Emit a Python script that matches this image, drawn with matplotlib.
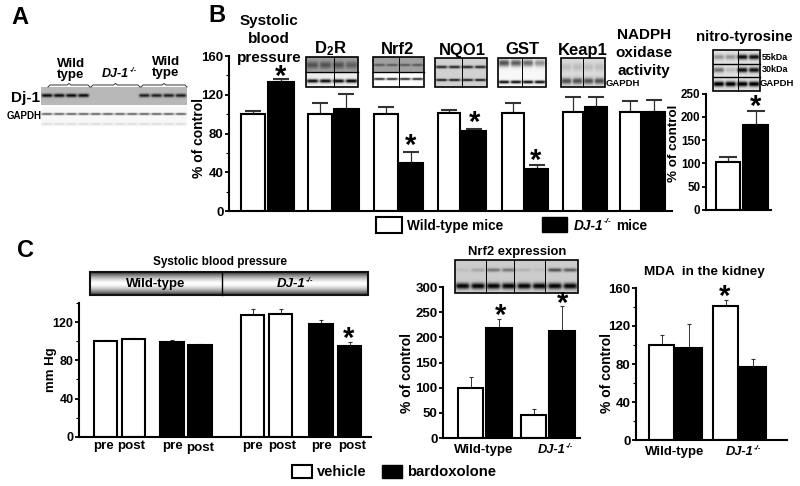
import matplotlib as mpl
import matplotlib.pyplot as plt
import numpy as np
from matplotlib.patches import Rectangle
from matplotlib.ticker import MultipleLocator

mpl.use('Agg')

plt.rcParams['font.family'] = ['Liberation Sans', 'DejaVu Sans']
plt.rcParams['font.weight'] = 'bold'
plt.rcParams['mathtext.default'] = 'regular'

W, H = 800, 486

# panel B
b_values = [100, 133, 100, 105, 100, 50, 101, 83, 101, 43, 102, 107, 102, 102]
b_tops = [103, 136, 112, 121, 107, 61, 104, 85, 111, 47, 118, 118, 114, 115]
b_edges = [(240, 266), (267, 295), (307, 333), (333, 360), (373, 399), (399, 424), (437, 461),
           (461, 487), (501, 525), (525, 549), (562, 584), (584, 608), (619, 642), (642, 666)]
b_fills = ['w', 'k'] * 7

# nitro-tyrosine
nitro_values = [103, 183]
nitro_tops = [113, 212]
nitro_edges = [(715, 741), (742, 769)]

# panel C, systolic pressure
sbp_values = [100, 102, 99, 96, 127, 128, 118, 95]
sbp_tops = [101.5, 103.5, 101, 97, 134, 134, 122, 99]
sbp_edges = [(93, 118), (121, 146), (159, 185), (187, 213), (240, 265), (268, 293), (308, 334), (337, 362)]
sbp_fills = ['w', 'w', 'k', 'k', 'w', 'w', 'k', 'k']
sbp_labels = [('pre', 104, 446), ('post', 131, 446), ('pre', 173, 446), ('post', 200, 448),
              ('pre', 253, 446), ('post', 282, 446), ('pre', 322, 446), ('post', 352, 446)]

# panel C, Nrf2 expression
nrf_values = [99, 219, 45, 212]
nrf_tops = [121, 237, 58, 263]
nrf_edges = [(457, 484), (485, 513), (520, 547), (548, 576)]

# panel C, MDA
mda_values = [100, 97, 141, 77]
mda_tops = [111, 122, 147, 85]
mda_edges = [(648, 675), (675, 703), (712, 739), (739, 767)]

stars = [(281, 73), (411, 142), (475, 119), (536, 157), (756, 103), (349, 335), (501, 312), (563, 300), (725, 293)]

# blots: box, background rows, bands (y, half height, darkness per lane), lane dividers, row dividers
blots = [
    ((41, 187, 88, 105), [(88, 0.72)], [(96, 1.6, [0.7] * 4 + [0.0] * 4 + [0.62] * 4)], [], False, []),
    ((41, 187, 107, 126), [(107, 0.97)], [(114, 1.0, [0.65] * 12), (124, 1.2, [0.1] * 12)], [], False, []),
    ((306, 358, 57, 87), [(57, 0.62), (72, 0.93)],
     [(65, 3.5, [0.3, 0.3, 0.3, 0.25]), (81, 1.8, [0.9, 0.9, 0.9, 0.95])], [334], True, [72]),
    ((373, 424, 57, 87), [(57, 0.63), (72, 1.0)],
     [(65, 1.2, [0.3, 0.3, 0.3, 0.3]), (79, 1.1, [0.9, 0.9, 0.9, 0.9])], [399], True, [72]),
    ((435, 487, 58, 87), [(58, 0.82)],
     [(67, 1.4, [0.7, 0.7, 0.7, 0.7]), (80, 1.2, [0.75, 0.75, 0.75, 0.75])], [462], True, []),
    ((498, 546, 58, 87), [(58, 0.97)],
     [(63, 3.5, [0.65, 0.6, 0.55, 0.4]), (82, 1.5, [0.95, 0.95, 0.95, 0.95])], [522], True, []),
    ((561, 605, 58, 87), [(58, 0.86)],
     [(67, 4.0, [0.12, 0.12, 0.12, 0.12]), (81, 3.0, [0.55, 0.55, 0.55, 0.55])], [583], True, []),
    ((713, 760, 50, 91), [(50, 0.88)],
     [(57, 2.5, [0.3, 0.3, 0.85, 0.85]), (70, 2.5, [0.45, 0.15, 0.85, 0.85]), (84, 2.5, [0.95, 0.95, 0.95, 0.95])],
     [738], True, [64, 77]),
    ((455, 578, 260, 293), [(260, 0.8)],
     [(270, 1.8, [0.05, 0.15, 0.35, 0.35, 0.1, 0.05, 0.5, 0.45]), (286, 3.0, [0.8] * 8)],
     [486, 514, 545], True, []),
]

fig = plt.figure(figsize=(W / 100, H / 100), dpi=100)
fig.patch.set_facecolor('white')

ov = fig.add_axes([0, 0, 1, 1], zorder=5)
ov.patch.set_alpha(0)
ov.axis('off')


def make_axes(left, right, y_zero, y_max_px, y_max, major, minor=None, tick_size=9.5):
    ax = fig.add_axes([left / W, 1 - y_zero / H, (right - left) / W, (y_zero - y_max_px) / H], zorder=3)
    ax.patch.set_alpha(0)
    ax.set_xlim(left, right)
    ax.set_ylim(0, y_max)
    ax.spines['top'].set_visible(False)
    ax.spines['right'].set_visible(False)
    ax.spines['left'].set_linewidth(1.5)
    ax.spines['bottom'].set_linewidth(1.5)
    ax.set_xticks([])
    ax.yaxis.set_major_locator(MultipleLocator(major))
    if minor:
        ax.yaxis.set_minor_locator(MultipleLocator(minor))
    ax.tick_params(axis='y', which='major', length=3, width=1.3, pad=1, labelsize=tick_size)
    ax.tick_params(axis='y', which='minor', length=2, width=0.8)
    return ax


def draw_bars(ax, edges, values, tops, fills, lw=1.5, cap=4.5, capw=1.5, elw=0.9):
    for (x0, x1), v, top, c in zip(edges, values, tops, fills):
        mid = (x0 + x1) / 2
        ax.errorbar(mid, v, yerr=[[0], [top - v]], color='#333333', capsize=cap, capthick=capw, elinewidth=elw, zorder=1)
        ax.bar(mid, v, width=x1 - x0 - lw, color=c, edgecolor='k', linewidth=lw, zorder=2)


def draw_blot(box, rows, bands, lane_lines, framed, row_lines):
    x0, x1, y0, y1 = box
    sc = 3
    img = np.ones(((y1 - y0) * sc, (x1 - x0) * sc))
    ys = y0 + (np.arange(img.shape[0]) + 0.5) / sc
    xs = x0 + (np.arange(img.shape[1]) + 0.5) / sc
    for start, gray in rows:
        img[ys >= start, :] = gray
    for yc, half, levels in bands:
        n = len(levels)
        lane_w = (x1 - x0) / n
        for i, lev in enumerate(levels):
            xc = x0 + (i + 0.5) * lane_w
            prof_x = np.exp(-((xs - xc) / (lane_w * 0.45)) ** 6)
            prof_y = np.exp(-((ys - yc) / half) ** 2)
            img -= lev * np.outer(prof_y, prof_x)
    ov.imshow(np.clip(img, 0, 1), cmap='gray', vmin=0, vmax=1, extent=(x0, x1, y1, y0), aspect='auto',
              interpolation='bilinear', zorder=1)
    if framed:
        ov.add_patch(Rectangle((x0, y0), x1 - x0, y1 - y0, fill=False, ec='k', lw=1.2, zorder=2))
        for lx in lane_lines:
            ov.plot([lx, lx], [y0, y1], color='k', lw=0.7, zorder=2)
        for ly in row_lines:
            ov.plot([x0, x1], [ly, ly], color='k', lw=1.0, zorder=2)


def brace(x0, x1, y):
    mid = (x0 + x1) / 2
    ov.plot([x0, x0 + 2, mid - 2, mid, mid + 2, x1 - 2, x1], [y + 2, y, y, y - 1.5, y, y, y + 2],
            color='#333333', lw=0.7, zorder=2)


def put(x, y, s, size=9.5, **kw):
    kw.setdefault('ha', 'center')
    kw.setdefault('va', 'center')
    return ov.text(x, y, s, fontsize=size, fontweight='bold', color='k', zorder=6, **kw)


def put_dj(x, y, size):
    # italic name with a small raised -/-, centred on x as a whole
    base = put(x, y, 'DJ-1', size, style='italic', ha='left')
    sup = put(x, y - size * 0.42, '-/-', size * 0.6, style='italic', ha='left')
    rend = fig.canvas.get_renderer()
    w_b = base.get_window_extent(rend).width
    w_s = sup.get_window_extent(rend).width
    x0 = x - (w_b + w_s) / 2
    base.set_x(x0)
    sup.set_x(x0 + w_b + 0.5)


# panel B
ax_b = make_axes(229, 672, 211, 56, 160, 40, 20)
draw_bars(ax_b, b_edges, b_values, b_tops, b_fills, cap=5.5)

ax_n = make_axes(706, 771, 210, 93.7, 250, 50, tick_size=8.4)
draw_bars(ax_n, nitro_edges, nitro_values, nitro_tops, ['w', 'k'], cap=6.5)

# panel C
ax_c = make_axes(79, 371, 436.7, 303, 140, 40, 20, tick_size=9)
draw_bars(ax_c, sbp_edges, sbp_values, sbp_tops, sbp_fills, cap=1.5, capw=0.8, elw=0.7)

ax_e = make_axes(443, 580, 438, 287, 300, 50, tick_size=9.5)
draw_bars(ax_e, nrf_edges, nrf_values, nrf_tops, ['w', 'k', 'w', 'k'], cap=1.5, capw=0.8, elw=0.7)

ax_m = make_axes(636, 787, 440, 288, 160, 40, 20, tick_size=9.5)
draw_bars(ax_m, mda_edges, mda_values, mda_tops, ['w', 'k', 'w', 'k'], cap=1.5, capw=0.8, elw=0.7)

for b in blots:
    draw_blot(*b)

# banner
grad = np.abs(np.linspace(-1, 1, 40))[:, None] ** 1.6
ov.imshow(1 - 0.8 * grad, cmap='gray', vmin=0, vmax=1, extent=(90, 368, 295, 272), aspect='auto', zorder=1)
ov.add_patch(Rectangle((90, 272), 278, 23, fill=False, ec='#111111', lw=1.5, zorder=2))
ov.plot([222, 222], [272, 295], color='k', lw=1, zorder=2)

for x0, x1 in [(48, 90), (91, 140), (141, 187)]:
    brace(x0, x1, 85)

# legends
ov.add_patch(Rectangle((376, 217), 26, 16, fc='w', ec='k', lw=1.5, zorder=2))
ov.add_patch(Rectangle((542, 217), 25, 15, fc='k', ec='k', lw=1, zorder=2))
ov.add_patch(Rectangle((292, 465), 20, 13, fc='w', ec='k', lw=1.5, zorder=2))
ov.add_patch(Rectangle((382, 465), 20, 13, fc='k', ec='k', lw=1, zorder=2))

ov.set_xlim(0, W)
ov.set_ylim(H, 0)

# text
put(20, 17, 'A', 17)
put(217, 16, 'B', 17)
put(25, 250, 'C', 17)
put(71, 69.5, 'Wild\ntype', 9.6, linespacing=0.9)
put_dj(119, 74, 9)
put(166, 67.5, 'Wild\ntype', 9.6, linespacing=0.9)
put(26, 98, 'Dj-1', 11)
put(24, 116, 'GAPDH', 7)

put(269, 21, 'Systolic', 11)
put(269, 39, 'blood', 11)
put(269, 58, 'pressure', 11)
put(330, 49, 'D$_2$R', 12)
put(398, 50, 'Nrf2', 12)
put(462, 50, 'NQO1', 12)
put(522, 50, 'GST', 12)
put(583, 50, 'Keap1', 12)
put(644, 35, 'NADPH', 11)
put(644, 53, 'oxidase', 11)
put(644, 71, 'activity', 11)
put(744, 37, 'nitro-tyrosine', 10.8)
put(775, 57, '55kDa', 6.5)
put(775, 70, '30kDa', 6.5)
put(777, 84, 'GAPDH', 6.8)
put(623, 84, 'GAPDH', 6.8)
put(407, 226, 'Wild-type mice', 9.8, ha='left')
put_dj(592, 226, 9.8)
put(616, 226, 'mice', 9.8, ha='left')

put(199, 138, '% of control', 10, rotation=90)
put(674, 143, '% of control', 9.6, rotation=90)
put(51, 370, 'mm Hg', 9.5, rotation=90)
put(407, 373, '% of control', 10, rotation=90)
put(607, 373, '% of control', 10, rotation=90)

put(220, 262, 'Systolic blood pressure', 8.5)
put(156, 284, 'Wild-type', 9.5)
put_dj(295, 284, 9.5)
for s, x, y in sbp_labels:
    put(x, y, s, 9.6)
put(517, 252, 'Nrf2 expression', 9.4)
put(484, 450, 'Wild-type', 9.5)
put_dj(555, 450, 9.3)
put(704, 272, 'MDA  in the kidney', 9.7)
put(675, 452, 'Wild-type', 9.5)
put_dj(743, 452, 9.3)
put(317, 472, 'vehicle', 10.5, ha='left')
put(407, 472, 'bardoxolone', 10.7, ha='left')

for x, y in stars:
    put(x, y + 12, '*', 21, va='baseline')

fig.savefig('out.png', dpi=100)
plt.close('all')
